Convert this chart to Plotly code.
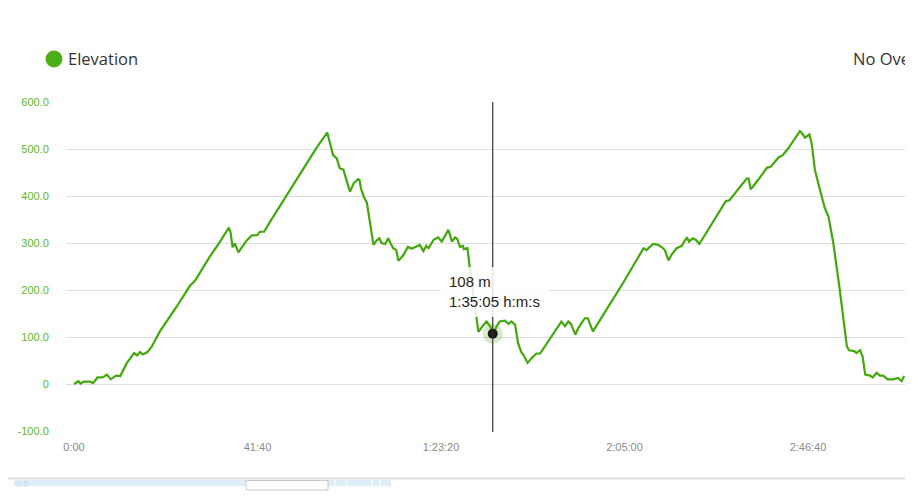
import plotly.graph_objects as go

# elapsed time (s) and elevation (m)
time_s = [0, 60, 90, 130, 220, 260, 320, 390, 450, 500, 570, 630, 720, 820, 860, 900, 940, 1000,
          1060, 1170, 1400, 1580, 1650, 1850, 1990, 2110, 2135, 2160, 2190, 2240, 2350, 2420, 2500,
          2530, 2590, 2670, 3310, 3450, 3530, 3580, 3620, 3670, 3720, 3760, 3810, 3870, 3890, 3910,
          3950, 3990, 4080, 4120, 4160, 4190, 4240, 4280, 4310, 4350, 4390, 4420, 4490, 4550, 4600,
          4670, 4710, 4760, 4800, 4830, 4900, 4960, 5010, 5100, 5150, 5190, 5220, 5260, 5300, 5310,
          5360, 5390, 5480, 5510, 5580, 5620, 5670, 5705, 5760, 5800, 5870, 5920, 5960, 6010, 6050,
          6100, 6120, 6180, 6240, 6300, 6350, 6580, 6640, 6690, 6735, 6770, 6830, 6870, 6960, 7000,
          7070, 7170, 7480, 7760, 7800, 7890, 7960, 8010, 8050, 8100, 8140, 8210, 8280, 8350, 8380,
          8430, 8470, 8520, 8640, 8710, 8880, 8930, 9165, 9190, 9220, 9320, 9440, 9490, 9600, 9655,
          9730, 9890, 9915, 9960, 10020, 10050, 10095, 10170, 10230, 10280, 10345, 10430, 10470,
          10530, 10560, 10630, 10660, 10710, 10745, 10780, 10845, 10880, 10935, 10980, 11025, 11085,
          11160, 11230, 11275, 11310]
elev_m = [1, 7, 2, 6, 6, 3, 15, 15, 21, 11, 19, 18, 46, 67, 62, 69, 64, 69,
          81, 113, 166, 210, 221, 272, 304, 334, 322, 292, 300, 281, 306, 317, 318,
          325, 325, 346, 505, 536, 488, 481, 460, 457, 431, 410, 428, 437, 435, 417,
          399, 387, 297, 306, 311, 301, 299, 311, 301, 290, 286, 263, 276, 293, 289,
          295, 297, 284, 295, 290, 308, 313, 304, 329, 304, 313, 310, 293, 295, 288,
          290, 251, 141, 112, 127, 134, 124, 108, 124, 134, 136, 129, 134, 127, 88,
          67, 64, 46, 57, 66, 66, 120, 134, 124, 134, 129, 106, 120, 141, 141,
          113, 138, 216, 290, 286, 299, 297, 292, 286, 264, 276, 290, 295, 313, 304,
          311, 308, 299, 329, 346, 390, 392, 438, 438, 415, 435, 461, 463, 483, 488,
          502, 539, 535, 525, 532, 513, 456, 410, 375, 357, 301, 205, 152,
          81, 73, 71, 67, 73, 59, 21, 19, 15, 25, 19, 19, 11,
          11, 14, 7, 18]

x_tick_vals = [0, 2500, 5000, 7500, 10000]
x_tick_text = ["0:00", "41:40", "1:23:20", "2:05:00", "2:46:40"]
y_tick_vals = [-100, 0, 100, 200, 300, 400, 500, 600]
y_tick_text = ["-100.0", "0", "100.0", "200.0", "300.0", "400.0", "500.0", "600.0"]

hover_t = [5705]
hover_e = [108]
hover_label = "108 m<br>1:35:05 h:m:s"
series_name = "Elevation"
overlay_label = "No Ove"

GREEN = "#42a80c"

# the page body adds an 8px offset; the figure fills the rest of the window
W, H = 905, 492
L, R, T, B = 58, 3, 94, 68

# page-pixel -> paper helpers (plot area spans page x 66..910, y 102..432)
def px(x):
    return (x - 66) / 844


def py(y):
    return (432 - y) / 330


fig = go.Figure()
fig.add_trace(go.Scatter(x=time_s, y=elev_m, mode="lines",
                         line=dict(color=GREEN, width=2.2), hoverinfo="skip",
                         showlegend=False))
# hover halo + dot
fig.add_trace(go.Scatter(x=hover_t, y=hover_e, mode="markers",
                         marker=dict(size=20, color="rgba(90,180,40,0.25)"),
                         hoverinfo="skip", showlegend=False))
fig.add_trace(go.Scatter(x=hover_t, y=hover_e, mode="markers",
                         marker=dict(size=10, color="#1a1a1a"),
                         hoverinfo="skip", showlegend=False))

shapes = []
# crosshair
shapes.append(dict(type="line", xref="x", yref="paper", x0=hover_t[0], x1=hover_t[0],
                   y0=0, y1=1, line=dict(color="#333333", width=1.2), layer="above"))
# tooltip background
shapes.append(dict(type="rect", xref="paper", yref="paper", x0=px(440), x1=px(550),
                   y0=py(317), y1=py(267), fillcolor="rgba(255,255,255,0.85)",
                   line=dict(width=0), layer="above"))
# legend dot
shapes.append(dict(type="circle", xref="paper", yref="paper", x0=px(45.5), x1=px(62.5),
                   y0=py(67.5), y1=py(50.5), fillcolor="#4caf17", line=dict(width=0)))
# bottom navigator strip
shapes.append(dict(type="line", xref="paper", yref="paper", x0=px(0), x1=px(913),
                   y0=py(478.5), y1=py(478.5), line=dict(color="#dcdcdc", width=2)))
shapes.append(dict(type="rect", xref="paper", yref="paper", x0=px(14), x1=px(391),
                   y0=py(486), y1=py(480), fillcolor="#ddeef8", line=dict(width=0)))
shapes.append(dict(type="rect", xref="paper", yref="paper", x0=px(246), x1=px(328),
                   y0=py(490), y1=py(480.5), fillcolor="#ffffff",
                   line=dict(color="#c8c8c8", width=1)))
for xv in [335, 347, 372, 380]:
    shapes.append(dict(type="line", xref="paper", yref="paper", x0=px(xv), x1=px(xv),
                       y0=py(486), y1=py(480), line=dict(color="#ffffff", width=1)))

annotations = [
    dict(text=series_name, xref="paper", yref="paper", x=px(65.5), y=py(59),
         xanchor="left", yanchor="middle", showarrow=False,
         font=dict(family="Open Sans", size=16.5, color="#333333")),
    dict(text=overlay_label, xref="paper", yref="paper", x=px(912), y=py(59),
         xanchor="right", yanchor="middle", showarrow=False,
         font=dict(family="Open Sans", size=16.5, color="#333333")),
    dict(text=hover_label, xref="paper", yref="paper", x=px(447), y=py(291.5),
         xanchor="left", yanchor="middle", align="left", showarrow=False,
         font=dict(family="Liberation Sans, Arial", size=15, color="#222222")),
    dict(text="0.0", xref="paper", yref="paper", x=px(14), y=py(484),
         xanchor="left", yanchor="middle", showarrow=False,
         font=dict(family="Liberation Sans, Arial", size=9, color="#c8d8e8")),
]

fig.update_layout(
    width=W, height=H,
    margin=dict(l=L, r=R, t=T, b=B),
    paper_bgcolor="white", plot_bgcolor="white",
    shapes=shapes, annotations=annotations,
    xaxis=dict(range=[-109, 11390], tickvals=x_tick_vals, ticktext=x_tick_text,
               showgrid=False, zeroline=False, showline=False,
               ticks="outside", ticklen=5, tickcolor="rgba(0,0,0,0)",
               tickfont=dict(family="Liberation Sans, Arial", size=11, color="#8a8a8a")),
    yaxis=dict(range=[-101, 601], tickvals=y_tick_vals, ticktext=y_tick_text,
               showgrid=True, gridcolor="#dedede", gridwidth=1.3, zeroline=False,
               showline=False, ticks="outside", ticklen=14, tickcolor="rgba(0,0,0,0)",
               tickfont=dict(family="Liberation Sans, Arial", size=11, color="#5cb82a")),
    hovermode=False,
)

fig.write_html("out.html")
